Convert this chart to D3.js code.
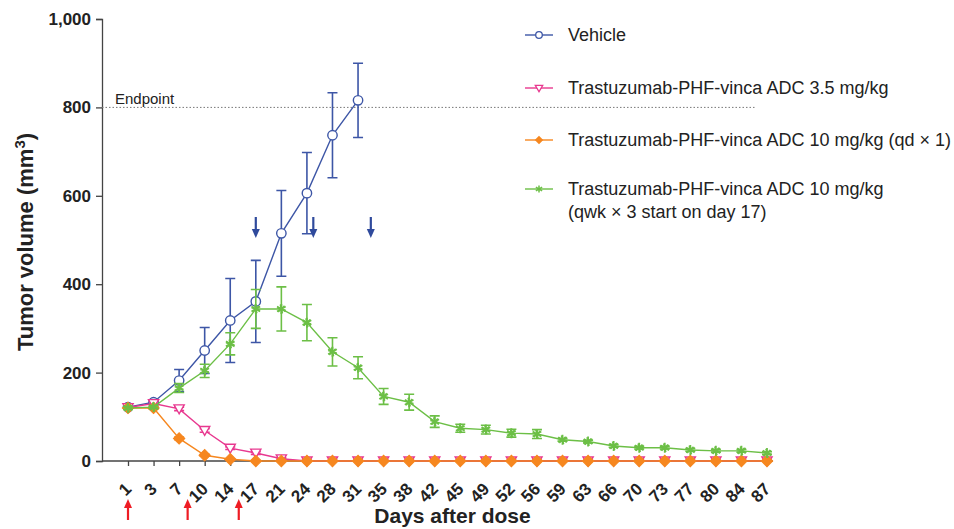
<!DOCTYPE html>
<html>
<head>
<meta charset="utf-8">
<script src="https://cdn.jsdelivr.net/npm/d3@7"></script>
<style>
  body { margin: 0; background: #fff; }
  svg { font-family: "Liberation Sans", Arial, sans-serif; }
</style>
</head>
<body>
<div id="viz"></div>
<script>
// days on the (categorical) x axis
var days = [1, 3, 7, 10, 14, 17, 21, 24, 28, 31, 35, 38, 42, 45, 49, 52, 56, 59, 63, 66, 70, 73, 77, 80, 84, 87];

var vehicle     = [122, 133, 182, 250, 318, 361, 515, 606, 737, 816];
var vehicleErr  = [5, 5, 25, 52, 95, 93, 97, 92, 96, 84];

var adc35       = [121, 130, 118, 69, 29, 18, 5, 0, 0, 0, 0, 0, 0, 0, 0, 0, 0, 0, 0, 0, 0, 0, 0, 0, 0, 0];
var adc35Err    = [4, 8, 4, 4, 3, 3, 2, 1, 1, 1, 1, 1, 1, 1, 1, 1, 1, 1, 1, 1, 1, 1, 1, 1, 1, 1];

var adc10       = [120, 120, 51, 13, 4, 0, 0, 0, 0, 0, 0, 0, 0, 0, 0, 0, 0, 0, 0, 0, 0, 0, 0, 0, 0, 0];
var adc10Err    = [2, 2, 3, 2, 1, 0, 0, 0, 0, 0, 0, 0, 0, 0, 0, 0, 0, 0, 0, 0, 0, 0, 0, 0, 0, 0];

var adcQwk      = [120, 122, 165, 204, 265, 344, 344, 313, 247, 211, 146, 133, 89, 74, 71, 63, 61, 48, 44, 34, 30, 30, 25, 23, 23, 18];
var adcQwkErr   = [3, 3, 10, 15, 25, 44, 50, 41, 32, 25, 18, 18, 13, 9, 10, 9, 10, 3, 3, 3, 3, 3, 3, 3, 3, 3];

var yTicks = [0, 200, 400, 600, 800, 1000];
var endpoint = 800;
var redArrowDays = [1, 8, 15];     // dosing, below axis
var blueArrowDays = [17, 25, 33];  // dosing, green group

var legendLabels = [
  ['Vehicle'],
  ['Trastuzumab-PHF-vinca ADC 3.5 mg/kg'],
  ['Trastuzumab-PHF-vinca ADC 10 mg/kg (qd \u00d7 1)'],
  ['Trastuzumab-PHF-vinca ADC 10 mg/kg', '(qwk \u00d7 3 start on day 17)']
];

var W = 954, H = 529;
var margin = { top: 19, right: 181, bottom: 68, left: 102 };
var width = W - margin.left - margin.right,
    height = H - margin.top - margin.bottom;

var svg = d3.select('#viz').append('svg')
  .attr('width', W)
  .attr('height', H);

var g = svg.append('g')
  .attr('transform', 'translate(' + margin.left + ',' + margin.top + ')');

var xScale = d3.scalePoint()
  .domain(days)
  .range([26, 665]);

// position for a day that is not one of the categories
function xDay(d) {
  for (var i = 0; i < days.length - 1; i++) {
    if (d >= days[i] && d <= days[i + 1]) {
      var t = (d - days[i]) / (days[i + 1] - days[i]);
      return xScale(days[i]) + t * (xScale(days[i + 1]) - xScale(days[i]));
    }
  }
  return xScale(d);
}

var yScale = d3.scaleLinear()
  .domain([0, 1000])
  .range([height, 0]);

// axes
var yAxis = g.append('g')
  .call(d3.axisLeft(yScale).tickValues(yTicks).tickSize(6).tickPadding(5).tickFormat(d3.format(',')));
yAxis.selectAll('text')
  .style('font-size', '17px').style('font-weight', 'bold').attr('fill', '#222');
yAxis.selectAll('line, path').attr('stroke', '#444').attr('stroke-width', 1.3);

var xAxis = g.append('g')
  .attr('transform', 'translate(0,' + height + ')')
  .call(d3.axisBottom(xScale).tickSize(5).tickSizeOuter(0));
xAxis.select('path').attr('d', 'M0,0H' + (xScale(87) + 6));
xAxis.selectAll('line, path').attr('stroke', '#444').attr('stroke-width', 1.3);
xAxis.selectAll('text')
  .style('font-size', '17px').style('font-weight', 'bold').attr('fill', '#222')
  .attr('text-anchor', 'end')
  .attr('dy', null).attr('y', null)
  .attr('transform', 'translate(4,29) rotate(-45)');

// axis titles
svg.append('text')
  .attr('transform', 'translate(33,' + (margin.top + height / 2 + 2) + ') rotate(-90)')
  .attr('text-anchor', 'middle')
  .style('font-size', '22px').style('font-weight', 'bold').attr('fill', '#222')
  .html('Tumor volume (mm<tspan dy="-8" font-size="15px">3</tspan><tspan dy="8">)</tspan>');

svg.append('text')
  .attr('x', margin.left + (xScale(1) + xScale(87)) / 2 + 5)
  .attr('y', 523)
  .attr('text-anchor', 'middle')
  .style('font-size', '21px').style('font-weight', 'bold').attr('fill', '#222')
  .text('Days after dose');

// endpoint
g.append('line')
  .attr('x1', 0).attr('x2', 654)
  .attr('y1', yScale(endpoint)).attr('y2', yScale(endpoint))
  .attr('stroke', '#777').attr('stroke-width', 1).attr('stroke-dasharray', '1.5,2');
g.append('text')
  .attr('x', 13).attr('y', yScale(endpoint) - 3)
  .style('font-size', '15px').attr('fill', '#222')
  .text('Endpoint');

var series = [
  { vals: vehicle,  err: vehicleErr, color: '#3d56a6', sym: 'circle' },
  { vals: adc35,    err: adc35Err,   color: '#e8388f', sym: 'triangle' },
  { vals: adc10,    err: adc10Err,   color: '#f6871f', sym: 'diamond' },
  { vals: adcQwk,   err: adcQwkErr,  color: '#6cbf46', sym: 'star' }
];

function drawMarker(sel, s, x, y) {
  if (s.sym === 'circle') {
    sel.append('circle').attr('cx', x).attr('cy', y).attr('r', 4.7)
      .attr('fill', '#fff').attr('stroke', s.color).attr('stroke-width', 1.4);
  } else if (s.sym === 'triangle') {
    sel.append('path')
      .attr('transform', 'translate(' + x + ',' + (y - 1) + ') rotate(180)')
      .attr('d', d3.symbol(d3.symbolTriangle, 45)())
      .attr('fill', '#fff').attr('stroke', s.color).attr('stroke-width', 1.4);
  } else if (s.sym === 'diamond') {
    sel.append('path')
      .attr('transform', 'translate(' + x + ',' + y + ') rotate(45)')
      .attr('d', d3.symbol(d3.symbolSquare, 65)())
      .attr('fill', s.color).attr('stroke', s.color).attr('stroke-width', 1);
  } else {
    sel.append('path')
      .attr('transform', 'translate(' + x + ',' + y + ')')
      .attr('d', d3.symbol(d3.symbolAsterisk, 70)())
      .attr('fill', 'none').attr('stroke', s.color).attr('stroke-width', 1.8);
    sel.append('path')
      .attr('transform', 'translate(' + x + ',' + y + ') rotate(45)')
      .attr('d', d3.symbol(d3.symbolAsterisk, 55)())
      .attr('fill', 'none').attr('stroke', s.color).attr('stroke-width', 1.4);
  }
}

var line = d3.line()
  .x(function(d) { return xScale(d.day); })
  .y(function(d) { return yScale(d.v); });

series.forEach(function(s) {
  var pts = s.vals.map(function(v, i) { return { day: days[i], v: v, e: s.err[i] }; });
  var sg = g.append('g');

  // error bars
  pts.forEach(function(p) {
    if (!p.e) return;
    var x = xScale(p.day);
    var y1 = yScale(p.v + p.e), y0 = yScale(Math.max(0, p.v - p.e));
    sg.append('path')
      .attr('d', 'M' + (x - 5) + ',' + y1 + 'H' + (x + 5) + 'M' + x + ',' + y1 + 'V' + y0 +
                 'M' + (x - 5) + ',' + y0 + 'H' + (x + 5))
      .attr('stroke', s.color).attr('stroke-width', 1.6).attr('fill', 'none');
  });

  sg.append('path')
    .datum(pts)
    .attr('d', line)
    .attr('fill', 'none')
    .attr('stroke', s.color)
    .attr('stroke-width', 1.4);

  pts.forEach(function(p) { drawMarker(sg, s, xScale(p.day), yScale(p.v)); });
});

// dosing arrows
blueArrowDays.forEach(function(d) {
  var x = margin.left + xDay(d);
  svg.append('line')
    .attr('x1', x).attr('x2', x).attr('y1', 217).attr('y2', 230)
    .attr('stroke', '#2f4a9c').attr('stroke-width', 2.2);
  svg.append('path')
    .attr('d', 'M' + (x - 4) + ',229L' + (x + 4) + ',229L' + x + ',238Z')
    .attr('fill', '#2f4a9c');
});
redArrowDays.forEach(function(d) {
  var x = margin.left + xDay(d);
  svg.append('line')
    .attr('x1', x).attr('x2', x).attr('y1', 520).attr('y2', 506)
    .attr('stroke', '#ee1c24').attr('stroke-width', 2.2);
  svg.append('path')
    .attr('d', 'M' + (x - 4) + ',508L' + (x + 4) + ',508L' + x + ',499Z')
    .attr('fill', '#ee1c24');
});

// legend
var legendY = [35, 88, 140, 189];
var legend = svg.append('g');
series.forEach(function(s, i) {
  var y = legendY[i];
  legend.append('line')
    .attr('x1', 525).attr('x2', 553).attr('y1', y).attr('y2', y)
    .attr('stroke', s.color).attr('stroke-width', 1.4);
  if (s.sym === 'circle') {
    legend.append('circle').attr('cx', 539).attr('cy', y).attr('r', 3.3)
      .attr('fill', '#fff').attr('stroke', s.color).attr('stroke-width', 1.3);
  } else if (s.sym === 'triangle') {
    legend.append('path')
      .attr('transform', 'translate(539,' + (y - 0.5) + ') rotate(180)')
      .attr('d', d3.symbol(d3.symbolTriangle, 24)())
      .attr('fill', '#fff').attr('stroke', s.color).attr('stroke-width', 1.3);
  } else if (s.sym === 'diamond') {
    legend.append('path')
      .attr('transform', 'translate(539,' + y + ') rotate(45)')
      .attr('d', d3.symbol(d3.symbolSquare, 36)())
      .attr('fill', s.color);
  } else {
    legend.append('path')
      .attr('transform', 'translate(539,' + y + ')')
      .attr('d', d3.symbol(d3.symbolAsterisk, 36)())
      .attr('fill', 'none').attr('stroke', s.color).attr('stroke-width', 1.5);
  }
  legendLabels[i].forEach(function(t, j) {
    legend.append('text')
      .attr('x', 568).attr('y', y + 6 + j * 23)
      .style('font-size', '18px').attr('fill', '#222')
      .text(t);
  });
});
</script>
</body>
</html>
